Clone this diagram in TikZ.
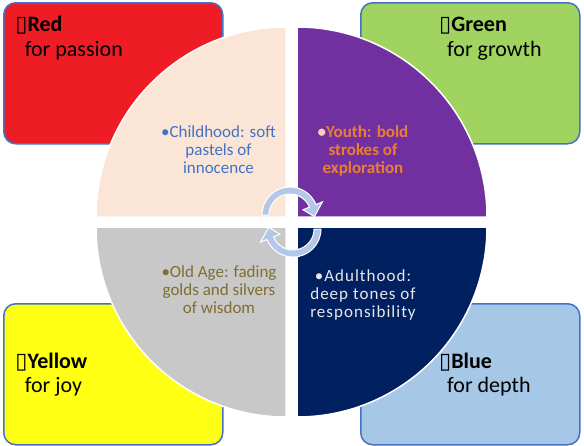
\documentclass[tikz,border=0pt]{standalone}
\usepackage{fontspec}
\setmainfont{Carlito}
\newfontfamily\glyphfont{DejaVu Sans}
\newfontfamily\widefont[LetterSpace=6]{Carlito}
\newcommand{\nobox}{{\glyphfont\mdseries ▯}}

\definecolor{cardline}{RGB}{68,114,196}
\definecolor{redcard}{RGB}{238,28,36}
\definecolor{greencard}{RGB}{160,211,95}
\definecolor{yellowcard}{RGB}{255,255,20}
\definecolor{bluecard}{RGB}{166,200,230}
\definecolor{childfill}{RGB}{251,229,214}
\definecolor{youthfill}{RGB}{112,48,160}
\definecolor{oldfill}{RGB}{200,200,200}
\definecolor{adultfill}{RGB}{0,32,96}
\definecolor{childtext}{RGB}{68,114,196}
\definecolor{youthtext}{RGB}{237,125,49}
\definecolor{youthdot}{RGB}{250,205,185}
\definecolor{oldtext}{RGB}{128,110,48}
\definecolor{adulttext}{RGB}{232,232,232}
\definecolor{turnfill}{RGB}{180,199,231}

\begin{document}
\begin{tikzpicture}[x=1pt, y=1pt, yscale=-1,
    card/.style={rectangle, draw=cardline, line width=1.5pt, rounded corners=12pt, minimum width=219pt, minimum height=141pt, anchor=north west},
    cardtext/.style={anchor=base west, align=left, inner sep=0pt, font=\fontsize{22}{24.3}\selectfont},
    quarter/.style={draw=white, line width=1.5pt},
    stagetext/.style={anchor=base, align=center, inner sep=0pt, font=\fontsize{17}{18}\selectfont},
    turn/.style={fill=turnfill, draw=white, line width=1pt}
]
    \fill[white] (0,0) rectangle (584,445);
    \useasboundingbox (0,0) rectangle (584,445);

    \node[card, fill=redcard] (red) at (3,2) {};
    \node[card, fill=greencard] (green) at (360,2) {};
    \node[card, fill=yellowcard] (yellow) at (3,303) {};
    \node[card, fill=bluecard] (blue) at (360,303) {};

    % base anchor sits on the last line
    \node[cardtext] (redtxt) at (15.3,56) {\textbf{\nobox Red}\\\hspace*{9.4pt}for passion};
    \node[cardtext] (greentxt) at (439,56) {\textbf{\nobox Green}\\\hspace*{8pt}for growth};
    \node[cardtext] (yellowtxt) at (15.3,392.5) {\textbf{\nobox Yellow}\\\hspace*{9.4pt}for joy};
    \node[cardtext] (bluetxt) at (439,392.5) {\textbf{\nobox Blue}\\\hspace*{8pt}for depth};

    \path[quarter, fill=childfill] (286,217) -- ++(-190,0) arc[start angle=180, end angle=270, radius=190] -- cycle;
    \path[quarter, fill=youthfill] (297,217) -- ++(0,-190) arc[start angle=270, end angle=360, radius=190] -- cycle;
    \path[quarter, fill=adultfill] (297,227) -- ++(190,0) arc[start angle=0, end angle=90, radius=190] -- cycle;
    \path[quarter, fill=oldfill] (286,227) -- ++(0,190) arc[start angle=90, end angle=180, radius=190] -- cycle;

    \node[stagetext, text=childtext] (child) at (218.5,173) {•Childhood: soft\\pastels of\\innocence};
    \node[stagetext, text=youthtext, font=\fontsize{17}{18}\selectfont\bfseries] (youth) at (363,173) {\textcolor{youthdot}{•}Youth: bold\\strokes of\\exploration};
    \node[stagetext, text=oldtext] (old) at (219,313.5) {•Old Age: fading\\golds and silvers\\of wisdom};
    \node[stagetext, text=adulttext, font=\fontsize{17}{18}\widefont] (adult) at (363,317) {•Adulthood:\\deep tones of\\responsibility};

    \foreach \cx/\cy/\rot in {290/215/0, 293/229/180}
        \path[turn, shift={(\cx,\cy)}, rotate=\rot] (180:28) arc[start angle=180, end angle=338, radius=28]
            -- (338:35) -- (4:24.5) -- (338:14) -- (338:21) arc[start angle=338, end angle=180, radius=21] -- cycle;
\end{tikzpicture}
\end{document}
